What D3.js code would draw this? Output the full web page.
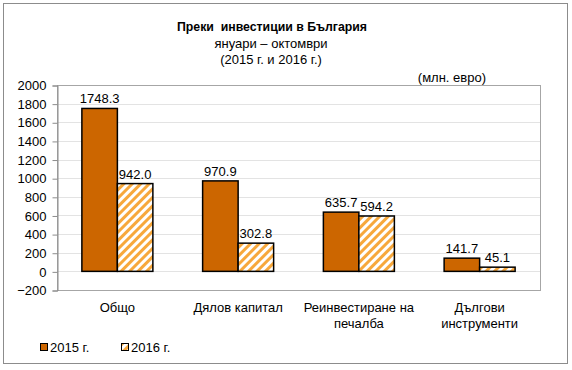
<!DOCTYPE html>
<html>
<head>
<meta charset="utf-8">
<script src="https://cdn.jsdelivr.net/npm/d3@7"></script>
<style>
  body { margin: 0; background: #fff; }
  text { font-family: "Liberation Sans", Arial, sans-serif; fill: #000; }
</style>
</head>
<body>
<div id="container"></div>
<script>
// data
var categories = [["Общо"], ["Дялов капитал"], ["Реинвестиране на", "печалба"], ["Дългови", "инструменти"]];
var series = ["2015 г.", "2016 г."];
var values2015 = [1748.3, 970.9, 635.7, 141.7];
var values2016 = [942.0, 302.8, 594.2, 45.1];
var yTicks = [-200, 0, 200, 400, 600, 800, 1000, 1200, 1400, 1600, 1800, 2000];

var w = 572, h = 370;
var plot = { left: 57, right: 540, top: 85, bottom: 290 };

var svg = d3.select("#container").append("svg")
  .attr("width", w).attr("height", h);

// hatch pattern for 2016
var defs = svg.append("defs");
var pat = defs.append("pattern")
  .attr("id", "hatch")
  .attr("patternUnits", "userSpaceOnUse")
  .attr("width", 6).attr("height", 6)
  .attr("patternTransform", "rotate(45)");
pat.append("rect").attr("width", 6).attr("height", 6).attr("fill", "#fff");
pat.append("rect").attr("width", 3).attr("height", 6).attr("fill", "#F7A83C");

// outer frame
svg.append("rect")
  .attr("x", 3.5).attr("y", 3.5).attr("width", 564).attr("height", 360)
  .attr("fill", "none").attr("stroke", "#8c8c8c");

// titles
svg.append("text").attr("x", 272).attr("y", 31).attr("text-anchor", "middle")
  .style("font-size", "12.3px").style("font-weight", "bold").style("white-space", "pre")
  .text("Преки  инвестиции в България");
svg.append("text").attr("x", 271).attr("y", 48).attr("text-anchor", "middle")
  .style("font-size", "13px").text("януари – октомври");
svg.append("text").attr("x", 271).attr("y", 64).attr("text-anchor", "middle")
  .style("font-size", "13px").text("(2015 г. и 2016 г.)");
svg.append("text").attr("x", 486).attr("y", 82).attr("text-anchor", "end")
  .style("font-size", "13px").text("(млн. евро)");

// scales
var x = d3.scaleBand().domain(d3.range(categories.length))
  .range([plot.left, plot.right]).padding(0);
var y = d3.scaleLinear().domain([-200, 2000]).range([plot.bottom, plot.top]);
var barW = 35.5;

// gridlines
svg.append("g").selectAll("line").data(yTicks.filter(function(d){ return d > -200 && d < 2000; }))
  .enter().append("line")
  .attr("x1", plot.left).attr("x2", plot.right)
  .attr("y1", function(d){ return Math.round(y(d)) + 0.5; })
  .attr("y2", function(d){ return Math.round(y(d)) + 0.5; })
  .attr("stroke", "#e3e3e3");

// plot border
svg.append("rect")
  .attr("x", plot.left + 0.5).attr("y", plot.top + 0.5)
  .attr("width", plot.right - plot.left).attr("height", plot.bottom - plot.top)
  .attr("fill", "none").attr("stroke", "#a6a6a6");

// y axis
var yAxis = d3.axisLeft(y).tickValues(yTicks).tickSize(5).tickPadding(6)
  .tickFormat(d3.format("d"));
var gy = svg.append("g").attr("transform", "translate(" + (plot.left + 0.5) + ",0.5)").call(yAxis);
gy.select(".domain").attr("stroke", "#8c8c8c");
gy.selectAll(".tick line").attr("stroke", "#8c8c8c");
gy.selectAll(".tick text").style("font-size", "13px")
  .style("font-family", "'Liberation Sans', Arial, sans-serif").attr("fill", "#000");

// bars
function drawBars(vals, idx, fill) {
  svg.append("g").selectAll("rect").data(vals).enter().append("rect")
    .attr("x", function(d, i){ return x(i) + x.bandwidth() / 2 - barW + idx * barW; })
    .attr("y", function(d){ return y(Math.max(0, d)); })
    .attr("width", barW)
    .attr("height", function(d){ return Math.abs(y(d) - y(0)); })
    .attr("fill", fill).attr("stroke", "#000").attr("stroke-width", 1.5);
  svg.append("g").selectAll("text").data(vals).enter().append("text")
    .attr("x", function(d, i){ return x(i) + x.bandwidth() / 2 - barW / 2 + idx * barW; })
    .attr("y", function(d){ return y(d) - 5; })
    .attr("text-anchor", "middle").style("font-size", "13px")
    .text(function(d){ return d3.format(".1f")(d); });
}
drawBars(values2015, 0, "#CC6600");
drawBars(values2016, 1, "url(#hatch)");

// category labels
var cl = svg.append("g").selectAll("text").data(categories).enter().append("text")
  .attr("x", function(d, i){ return x(i) + x.bandwidth() / 2; })
  .attr("y", 312).attr("text-anchor", "middle").style("font-size", "13px");
cl.selectAll("tspan").data(function(d){ return d; }).enter().append("tspan")
  .attr("x", function(){ return this.parentNode.getAttribute("x"); })
  .attr("dy", function(d, i){ return i ? 16 : 0; })
  .text(function(d){ return d; });

// legend
var legX = [40, 121];
var legFill = ["#CC6600", "url(#hatch)"];
var leg = svg.append("g").selectAll("g").data(series).enter().append("g")
  .attr("transform", function(d, i){ return "translate(" + legX[i] + ",343)"; });
leg.append("rect").attr("x", 0.5).attr("y", 0.5).attr("width", 7).attr("height", 7)
  .attr("fill", function(d, i){ return legFill[i]; }).attr("stroke", "#000");
leg.append("text").attr("x", 10).attr("y", 9).style("font-size", "13px")
  .text(function(d){ return d; });
</script>
</body>
</html>
